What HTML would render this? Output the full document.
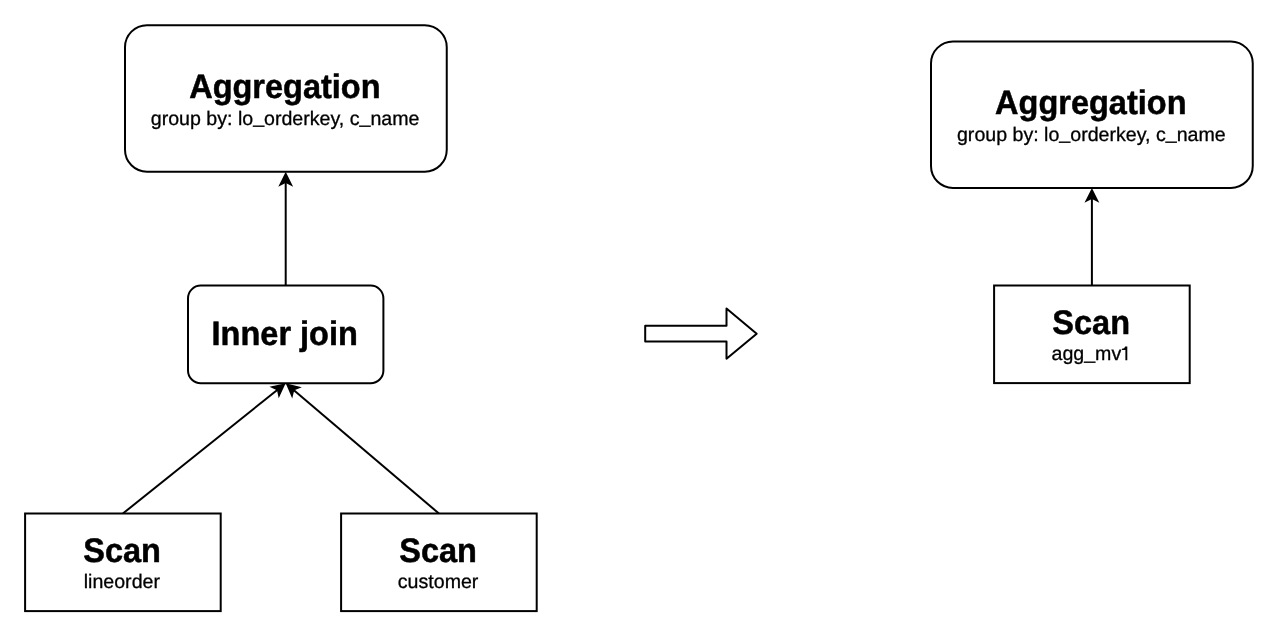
<!DOCTYPE html>
<html><head><meta charset="utf-8"><style>
html,body{margin:0;padding:0;background:#fff;width:1280px;height:643px;overflow:hidden}
svg{display:block;will-change:transform}
text{font-family:"Liberation Sans",sans-serif;fill:#000;text-rendering:geometricPrecision}
</style></head><body>
<svg width="1280" height="643" viewBox="0 0 1280 643">
<path d="M285.70,285.60 L285.70,181.79" fill="none" stroke="#000" stroke-width="2.0"/><path d="M285.70,173.99 L290.90,184.39 L285.70,181.79 L280.50,184.39 Z" fill="#000" stroke="#000" stroke-width="2.0" stroke-miterlimit="10"/>
<path d="M1091.90,285.50 L1091.90,197.94" fill="none" stroke="#000" stroke-width="2.0"/><path d="M1091.90,190.14 L1097.10,200.54 L1091.90,197.94 L1086.70,200.54 Z" fill="#000" stroke="#000" stroke-width="2.0" stroke-miterlimit="10"/>
<path d="M122.90,513.50 L277.86,389.47" fill="none" stroke="#000" stroke-width="2.0"/><path d="M283.95,384.60 L279.08,395.16 L277.86,389.47 L272.59,387.04 Z" fill="#000" stroke="#000" stroke-width="2.0" stroke-miterlimit="10"/>
<path d="M438.90,513.50 L293.34,389.70" fill="none" stroke="#000" stroke-width="2.0"/><path d="M287.40,384.65 L298.69,387.43 L293.34,389.70 L291.96,395.35 Z" fill="#000" stroke="#000" stroke-width="2.0" stroke-miterlimit="10"/>
<rect x="125.0" y="25.2" width="321.75" height="146.55" rx="21.98" ry="21.98" fill="#fff" stroke="#000" stroke-width="2"/>
<rect x="931.0" y="41.4" width="321.75" height="146.50" rx="21.97" ry="21.97" fill="#fff" stroke="#000" stroke-width="2"/>
<rect x="188.0" y="285.6" width="195.40" height="97.60" rx="12.80" ry="12.80" fill="#fff" stroke="#000" stroke-width="2"/>
<rect x="994.1" y="285.5" width="195.60" height="97.60" fill="#fff" stroke="#000" stroke-width="2"/>
<rect x="25.1" y="513.5" width="195.60" height="97.60" fill="#fff" stroke="#000" stroke-width="2"/>
<rect x="341.1" y="513.5" width="195.60" height="97.60" fill="#fff" stroke="#000" stroke-width="2"/>
<path d="M645.2,325.8 L726.5,325.8 L726.5,308.6 L756.7,333.65 L726.5,358.7 L726.5,341.5 L645.2,341.5 Z" fill="#fff" stroke="#000" stroke-width="2" stroke-linejoin="round"/>
<text transform="translate(284.85,98.0) scale(1.0,1.045)" font-size="32.5" font-weight="bold" stroke="#000" stroke-width="0.5" text-anchor="middle">Aggregation</text>
<text transform="translate(285.10,124.8) scale(1.0,1.0)" font-size="19.6" stroke="#000" stroke-width="0.3" text-anchor="middle">group by: lo<tspan dy="-1.9">_</tspan><tspan dy="1.9">orderkey, c</tspan><tspan dy="-1.9">_</tspan><tspan dy="1.9">name</tspan></text>
<text transform="translate(1090.80,114.2) scale(1.0,1.045)" font-size="32.5" font-weight="bold" stroke="#000" stroke-width="0.5" text-anchor="middle">Aggregation</text>
<text transform="translate(1091.30,140.9) scale(1.0,1.0)" font-size="19.6" stroke="#000" stroke-width="0.3" text-anchor="middle">group by: lo<tspan dy="-1.9">_</tspan><tspan dy="1.9">orderkey, c</tspan><tspan dy="-1.9">_</tspan><tspan dy="1.9">name</tspan></text>
<text transform="translate(284.70,345.4) scale(1.0,1.045)" font-size="32.5" font-weight="bold" stroke="#000" stroke-width="0.5" text-anchor="middle">Inner join</text>
<text transform="translate(122.10,562.4) scale(1.0,1.045)" font-size="32.5" font-weight="bold" stroke="#000" stroke-width="0.5" text-anchor="middle">Scan</text>
<text transform="translate(121.85,588.4) scale(1.0,1.0)" font-size="19.6" stroke="#000" stroke-width="0.3" text-anchor="middle">lineorder</text>
<text transform="translate(438.05,562.4) scale(1.0,1.045)" font-size="32.5" font-weight="bold" stroke="#000" stroke-width="0.5" text-anchor="middle">Scan</text>
<text transform="translate(438.10,588.3) scale(1.0,1.0)" font-size="19.6" stroke="#000" stroke-width="0.3" text-anchor="middle">customer</text>
<text transform="translate(1091.20,334.3) scale(1.0,1.045)" font-size="32.5" font-weight="bold" stroke="#000" stroke-width="0.5" text-anchor="middle">Scan</text>
<text transform="translate(1051.5,360.4)" font-size="19.6" stroke="#000" stroke-width="0.3" text-anchor="start">agg<tspan dy="-1.9">_</tspan><tspan dy="1.9">mv</tspan></text><path d="M1127.3,360.2 L1125.4,360.2 L1125.4,350.1 L1122.0,350.1 L1122.0,348.7 Q1124.7,348.5 1125.2,346.4 L1127.3,346.4 Z" fill="#000"/>
</svg>
</body></html>
